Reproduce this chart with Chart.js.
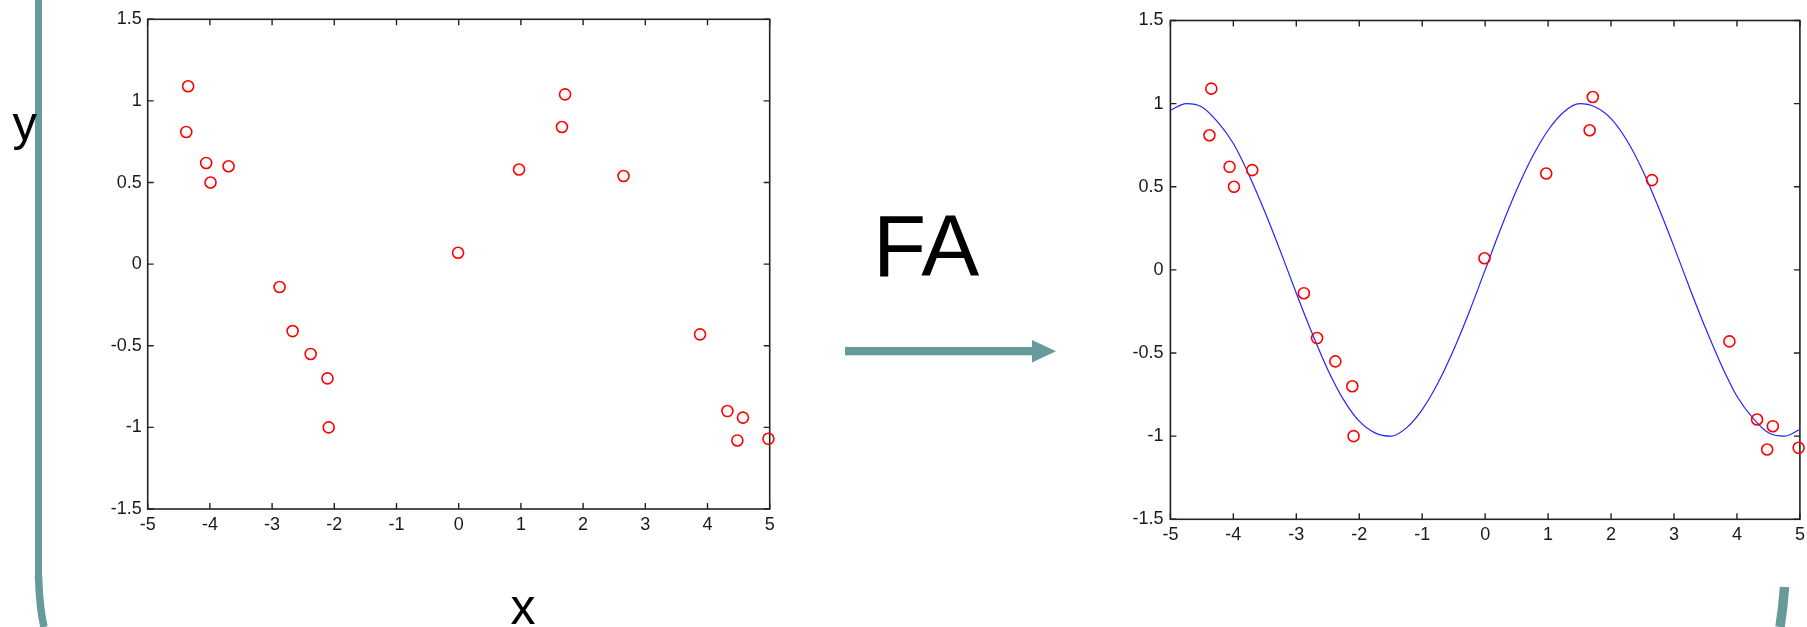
<!DOCTYPE html>
<html>
<head>
<meta charset="utf-8">
<script src="https://cdn.jsdelivr.net/npm/chart.js@4.4.1/dist/chart.umd.min.js"></script>
<style>
html,body{margin:0;padding:0;background:#fff;width:1807px;height:627px;overflow:hidden;}
#deco{position:absolute;left:0;top:0;width:1807px;height:627px;}
canvas{position:absolute;}
#c1{left:80px;top:0;}
#c2{left:1090px;top:0;}
</style>
</head>
<body>
<svg id="deco" width="1807" height="627" xmlns="http://www.w3.org/2000/svg">
  <rect x="35" y="0" width="7" height="577" fill="#679a9a"/>
  <path d="M38.5 576 Q 39.5 608 44 627" stroke="#679a9a" stroke-width="7.5" fill="none"/>
  <path d="M1784.5 587 Q 1783 608 1780 627" stroke="#679a9a" stroke-width="9.5" fill="none"/>
  <rect x="845" y="347" width="190" height="8.3" fill="#679a9a"/>
  <polygon points="1032,340 1056,351.2 1032,362.6" fill="#679a9a"/>
  <text x="873" y="276" font-family="Liberation Sans, Arial, sans-serif" font-size="87" fill="#000">FA</text>
  <text x="12.5" y="139.5" font-family="Liberation Sans, Arial, sans-serif" font-size="49" fill="#000">y</text>
  <text x="523" y="624" text-anchor="middle" font-family="Liberation Sans, Arial, sans-serif" font-size="50" fill="#000">x</text>
</svg>
<canvas id="c1" width="700" height="560"></canvas>
<canvas id="c2" width="717" height="560"></canvas>
<script>
// ---- data ----
const xData = [-4.35, -4.38, -4.06, -3.99, -3.70, -2.88, -2.67, -2.38, -2.11, -2.09, -0.01, 0.97, 1.66, 1.71, 2.65, 3.88, 4.32, 4.57, 4.48, 4.98];
const yData = [1.09, 0.81, 0.62, 0.50, 0.60, -0.14, -0.41, -0.55, -0.70, -1.00, 0.07, 0.58, 0.84, 1.04, 0.54, -0.43, -0.90, -0.94, -1.08, -1.07];

const curveX = [-5, -4.75, -4.5, -4.25, -4, -3.75, -3.5, -3.25, -3, -2.75, -2.5, -2.25, -2, -1.75, -1.5, -1.25, -1, -0.75, -0.5, -0.25, 0, 0.25, 0.5, 0.75, 1, 1.25, 1.5, 1.75, 2, 2.25, 2.5, 2.75, 3, 3.25, 3.5, 3.75, 4, 4.25, 4.5, 4.75, 5];
const curveY = [0.96, 1.00, 0.98, 0.89, 0.76, 0.57, 0.35, 0.11, -0.14, -0.38, -0.60, -0.78, -0.91, -0.98, -1.00, -0.95, -0.84, -0.68, -0.48, -0.25, 0.00, 0.25, 0.48, 0.68, 0.84, 0.95, 1.00, 0.98, 0.91, 0.78, 0.60, 0.38, 0.14, -0.11, -0.35, -0.57, -0.76, -0.89, -0.98, -1.00, -0.96];

const xTickVals = [-5, -4, -3, -2, -1, 0, 1, 2, 3, 4, 5];
const xTickLabels = ['-5', '-4', '-3', '-2', '-1', '0', '1', '2', '3', '4', '5'];
const yTickVals = [-1.5, -1, -0.5, 0, 0.5, 1, 1.5];
const yTickLabels = ['-1.5', '-1', '-0.5', '0', '0.5', '1', '1.5'];

// ---- rendering ----
const FONT = 'Liberation Sans, Arial, Helvetica, sans-serif';
const AXIS = '#222';
const TICKLEN = 6;

const framePlugin = {
  id: 'frame',
  beforeDatasetsDraw(chart) {
    const {ctx, chartArea: a, scales} = chart;
    ctx.save();
    ctx.strokeStyle = AXIS;
    ctx.lineWidth = 1.6;
    ctx.strokeRect(a.left, a.top, a.right - a.left, a.bottom - a.top);
    ctx.lineWidth = 1.4;
    ctx.beginPath();
    scales.x.ticks.forEach(t => {
      const px = scales.x.getPixelForValue(t.value);
      ctx.moveTo(px, a.bottom); ctx.lineTo(px, a.bottom - TICKLEN);
      ctx.moveTo(px, a.top); ctx.lineTo(px, a.top + TICKLEN);
    });
    scales.y.ticks.forEach(t => {
      const py = scales.y.getPixelForValue(t.value);
      ctx.moveTo(a.left, py); ctx.lineTo(a.left + TICKLEN, py);
      ctx.moveTo(a.right, py); ctx.lineTo(a.right - TICKLEN, py);
    });
    ctx.stroke();
    ctx.restore();
  }
};

function makeChart(id, g, withCurve) {
  const datasets = [];
  if (withCurve) {
    datasets.push({
      type: 'line',
      data: curveX.map((x, i) => ({x: x, y: curveY[i]})),
      borderColor: '#2323ff',
      borderWidth: 1.2,
      pointRadius: 0,
      fill: false,
      cubicInterpolationMode: 'monotone',
      clip: false,
      order: 2
    });
  }
  datasets.push({
    type: 'scatter',
    data: xData.map((x, i) => ({x: x, y: yData[i]})),
    pointStyle: 'circle',
    pointRadius: 5.5,
    borderColor: '#ff0000',
    backgroundColor: 'rgba(0,0,0,0)',
    borderWidth: 1.6,
    clip: false,
    order: 1
  });
  return new Chart(document.getElementById(id), {
    type: 'scatter',
    data: {datasets},
    options: {
      responsive: false,
      animation: false,
      events: [],
      layout: {padding: {top: g.top, left: 0, right: g.right, bottom: 0}},
      plugins: {legend: {display: false}, tooltip: {enabled: false}},
      scales: {
        x: {
          type: 'linear', min: -5, max: 5,
          afterBuildTicks: s => { s.ticks = xTickVals.map(v => ({value: v})); },
          ticks: {
            autoSkip: false, maxRotation: 0, padding: g.xpad,
            color: '#1a1a1a', font: {family: FONT, size: 18},
            callback: v => xTickLabels[xTickVals.indexOf(v)]
          },
          grid: {display: false, drawTicks: false, tickLength: 0}, border: {display: false},
          afterFit: s => { s.height = g.xh; s.paddingLeft = 0; s.paddingRight = 0; }
        },
        y: {
          type: 'linear', min: -1.5, max: 1.5,
          afterBuildTicks: s => { s.ticks = yTickVals.map(v => ({value: v})); },
          ticks: {
            autoSkip: false, padding: g.ypad,
            color: '#1a1a1a', font: {family: FONT, size: 18},
            callback: v => yTickLabels[yTickVals.indexOf(v)]
          },
          grid: {display: false, drawTicks: false, tickLength: 0}, border: {display: false},
          afterFit: s => { s.width = g.yw; s.paddingTop = 0; s.paddingBottom = 0; }
        }
      }
    },
    plugins: [framePlugin]
  });
}

makeChart('c1', {top: 19.3, right: 10.3, yw: 67.7, xh: 51, xpad: 5, ypad: 6}, false);
makeChart('c2', {top: 20.5, right: 3, yw: 80.4, xh: 40.7, xpad: 5, ypad: 7}, true);
</script>
</body>
</html>
